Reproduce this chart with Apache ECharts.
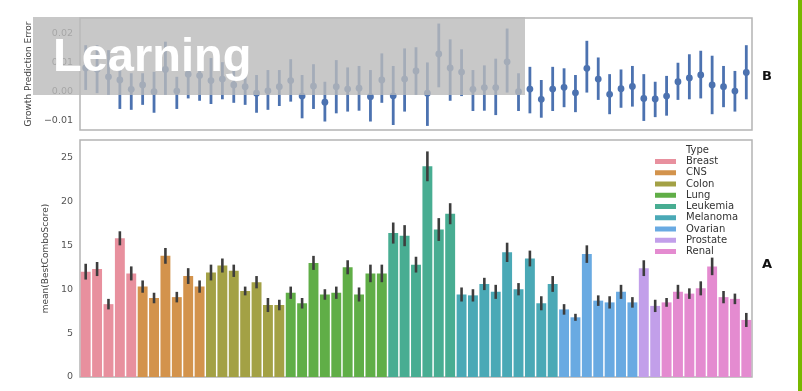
<!DOCTYPE html>
<html>
<head>
<meta charset="utf-8">
<script src="https://cdn.jsdelivr.net/npm/echarts@6/dist/echarts.min.js"></script>
<style>
  html, body { margin: 0; padding: 0; background: #fff; }
  #chart { width: 802px; height: 391px; }
</style>
</head>
<body>
<div id="chart"></div>
<script>
// Cell-line types and how many cell lines each type contributes (in plot order)
const types = ['Breast', 'CNS', 'Colon', 'Lung', 'Leukemia', 'Melanoma', 'Ovarian', 'Prostate', 'Renal'];
const typeCounts = [5, 6, 7, 9, 6, 9, 7, 2, 8];
const typeColors = ['#e8909e', '#d3934c', '#a3a145', '#60ae47', '#48ad92', '#4aa9b6', '#69aae2', '#c29fea', '#e48bd0'];

// Panel A: mean BestComboScore per cell line, with CI half-widths
const scoreMean = [
  12.0, 12.3, 8.3, 15.8, 11.8,
  10.3, 9.0, 13.8, 9.1, 11.5, 10.3,
  11.9, 12.7, 12.1, 9.8, 10.8, 8.2, 8.2,
  9.6, 8.4, 13.0, 9.4, 9.6, 12.5, 9.4, 11.8, 11.8,
  16.4, 16.1, 12.8, 24.0, 16.8, 18.6,
  9.4, 9.3, 10.6, 9.7, 14.2, 10.0, 13.5, 8.4, 10.6,
  7.7, 6.8, 14.0, 8.7, 8.5, 9.7, 8.5,
  12.4, 8.1,
  8.5, 9.7, 9.5, 10.1, 12.6, 9.1, 8.9, 6.5
];
const scoreCI = [
  0.9, 0.8, 0.6, 0.8, 0.8,
  0.7, 0.6, 0.9, 0.6, 0.9, 0.7,
  0.9, 0.8, 0.7, 0.5, 0.7, 0.8, 0.6,
  0.7, 0.6, 0.8, 0.6, 0.7, 0.8, 0.8, 1.0, 1.0,
  1.2, 1.2, 0.9, 1.7, 1.3, 1.2,
  0.8, 0.7, 0.7, 0.8, 1.1, 0.7, 0.9, 0.8, 0.9,
  0.6, 0.4, 1.0, 0.6, 0.7, 0.8, 0.6,
  0.9, 0.7,
  0.5, 0.8, 0.6, 0.8, 1.0, 0.7, 0.6, 0.8
];

// Panel B: growth prediction error per cell line (estimate, lower and upper CI)
const growthErr = [
  0.0081, 0.0077, 0.0051, 0.0040, 0.0008, 0.0023, 0.0000, 0.0076, 0.0002, 0.0060,
  0.0055, 0.0038, 0.0043, 0.0023, 0.0017, -0.0005, 0.0003, 0.0017, 0.0038, -0.0015,
  0.0019, -0.0036, 0.0017, 0.0009, 0.0012, -0.0017, 0.0040, -0.0014, 0.0043, 0.0071,
  -0.0005, 0.0129, 0.0081, 0.0067, 0.0008, 0.0014, 0.0014, 0.0102, 0.0000, 0.0009,
  -0.0026, 0.0009, 0.0015, -0.0004, 0.0080, 0.0043, -0.0009, 0.0010, 0.0018, -0.0023,
  -0.0025, -0.0015, 0.0034, 0.0047, 0.0057, 0.0023, 0.0017, 0.0002, 0.0066
];
const growthLow = [
  0.0006, -0.0005, -0.0011, -0.0059, -0.0062, -0.0045, -0.0072, -0.0011, -0.0059, -0.0023,
  -0.0031, -0.0042, -0.0026, -0.0038, -0.0045, -0.0072, -0.0062, -0.0049, -0.0034, -0.0091,
  -0.0059, -0.0102, -0.0074, -0.0068, -0.0065, -0.0102, -0.0038, -0.0114, -0.0068, -0.0011,
  -0.0117, 0.0015, -0.0031, -0.0015, -0.0066, -0.0065, -0.0080, -0.0003, -0.0066, -0.0074,
  -0.0089, -0.0066, -0.0053, -0.0070, -0.0003, -0.0028, -0.0077, -0.0055, -0.0051, -0.0100,
  -0.0087, -0.0082, -0.0028, -0.0026, -0.0023, -0.0077, -0.0053, -0.0068, -0.0026
];
const growthHigh = [
  0.0159, 0.0159, 0.0142, 0.0085, 0.0063, 0.0063, 0.0068, 0.0171, 0.0051, 0.0125,
  0.0125, 0.0115, 0.0101, 0.0081, 0.0074, 0.0057, 0.0074, 0.0074, 0.0111, 0.0057,
  0.0094, 0.0034, 0.0108, 0.0083, 0.0088, 0.0074, 0.0131, 0.0088, 0.0148, 0.0152,
  0.0100, 0.0233, 0.0179, 0.0145, 0.0074, 0.0090, 0.0113, 0.0216, 0.0063, 0.0085,
  0.0040, 0.0085, 0.0080, 0.0057, 0.0174, 0.0117, 0.0060, 0.0076, 0.0088, 0.0060,
  0.0034, 0.0054, 0.0099, 0.0128, 0.0140, 0.0123, 0.0088, 0.0071, 0.0159
];

// Tick labels
const growthTicks = [-0.01, 0.00, 0.01, 0.02];
const scoreTicks = [0, 5, 10, 15, 20, 25];

const FONT = 'DejaVu Sans';
const cats = scoreMean.map((_, i) => String(i));

// type index for each cell line
const cellType = [];
typeCounts.forEach((n, t) => { for (let k = 0; k < n; k++) cellType.push(t); });

const barSeries = types.map((name, t) => ({
  name: name,
  type: 'bar',
  xAxisIndex: 1,
  yAxisIndex: 1,
  barGap: '-100%',
  barCategoryGap: '13%',
  itemStyle: { color: typeColors[t] },
  data: scoreMean.map((v, i) => (cellType[i] === t ? v : '-')),
  animation: false
}));

const scoreBars = {
  type: 'custom',
  xAxisIndex: 1,
  yAxisIndex: 1,
  encode: { x: 0, y: [1, 2] },
  data: scoreMean.map((v, i) => [i, v - scoreCI[i], v + scoreCI[i]]),
  renderItem: (params, api) => {
    const a = api.coord([api.value(0), api.value(1)]);
    const b = api.coord([api.value(0), api.value(2)]);
    return { type: 'line', shape: { x1: a[0], y1: a[1], x2: b[0], y2: b[1] },
             style: { stroke: '#3d3d3d', lineWidth: 2.6 } };
  },
  z: 5,
  animation: false
};

const growthSeries = {
  type: 'custom',
  xAxisIndex: 0,
  yAxisIndex: 0,
  encode: { x: 0, y: [1, 2, 3] },
  data: growthErr.map((v, i) => [i, growthLow[i], growthHigh[i], v]),
  renderItem: (params, api) => {
    const a = api.coord([api.value(0), api.value(1)]);
    const b = api.coord([api.value(0), api.value(2)]);
    const c = api.coord([api.value(0), api.value(3)]);
    return { type: 'group', children: [
      { type: 'line', shape: { x1: a[0], y1: a[1], x2: b[0], y2: b[1] },
        style: { stroke: '#4c72b0', lineWidth: 2.8 } },
      { type: 'circle', shape: { cx: c[0], cy: c[1], r: 3.4 },
        style: { fill: '#4c72b0' } }
    ] };
  },
  animation: false
};

const chart = echarts.init(document.getElementById('chart'), null, { renderer: 'canvas' });
chart.setOption({
  backgroundColor: '#fff',
  animation: false,
  title: {
    text: 'Type', left: 686, top: 145, padding: 0,
    textStyle: { fontFamily: FONT, fontSize: 10, fontWeight: 'normal', color: '#333' }
  },
  legend: {
    orient: 'vertical', left: 655, top: 156, padding: 0,
    icon: 'rect', itemWidth: 21, itemHeight: 5, itemGap: 0.25,
    selectedMode: false,
    data: types,
    textStyle: { fontFamily: FONT, fontSize: 10, color: '#333', lineHeight: 11, padding: [0, 0, 0, 5] }
  },
  grid: [
    { left: 80, top: 18, width: 672, height: 112, show: true, borderColor: '#b4b4b4', borderWidth: 1.5, backgroundColor: 'transparent' },
    { left: 80, top: 140, width: 672, height: 237, show: true, borderColor: '#b4b4b4', borderWidth: 1.5, backgroundColor: 'transparent' }
  ],
  xAxis: [
    { type: 'category', gridIndex: 0, data: cats, axisLine: { show: false }, axisTick: { show: false }, axisLabel: { show: false } },
    { type: 'category', gridIndex: 1, data: cats, axisLine: { show: false }, axisTick: { show: false }, axisLabel: { show: false } }
  ],
  yAxis: [
    {
      type: 'value', gridIndex: 0, min: -0.0131, max: 0.0252,
      splitLine: { show: false }, axisLine: { show: false }, axisTick: { show: false },
      axisLabel: {
        customValues: growthTicks, margin: 7,
        fontFamily: FONT, fontSize: 9.5, color: '#555',
        formatter: v => (v < 0 ? '\u2212' + Math.abs(v).toFixed(2) : v.toFixed(2))
      },
      name: 'Growth Prediction Error', nameLocation: 'middle', nameRotate: 90, nameGap: 43,
      nameTextStyle: { fontFamily: FONT, fontSize: 9, color: '#444' }
    },
    {
      type: 'value', gridIndex: 1, min: 0, max: 27,
      splitLine: { show: false }, axisLine: { show: false }, axisTick: { show: false },
      axisLabel: { customValues: scoreTicks, margin: 7, fontFamily: FONT, fontSize: 9.5, color: '#555' },
      name: 'mean(BestComboScore)', nameLocation: 'middle', nameRotate: 90, nameGap: 21,
      nameTextStyle: { fontFamily: FONT, fontSize: 9, color: '#444' }
    }
  ],
  graphic: [
    { type: 'text', left: 762, top: 70, style: { text: 'B', fontFamily: FONT, fontSize: 13, fontWeight: 'bold', fill: '#111' } },
    { type: 'text', left: 762, top: 258, style: { text: 'A', fontFamily: FONT, fontSize: 13, fontWeight: 'bold', fill: '#111' } },
    { type: 'rect', shape: { x: 33, y: 17, width: 492, height: 78 }, style: { fill: 'rgba(186,186,186,0.8)' }, z: 100 },
    { type: 'text', x: 53, y: 58, z: 101,
      style: { text: 'Learning', fontFamily: 'Liberation Sans', fontSize: 47, fontWeight: 'bold', fill: '#fff', align: 'left', verticalAlign: 'middle' } },
    { type: 'rect', shape: { x: 798, y: 0, width: 4, height: 391 }, style: { fill: '#78b800' }, z: 100 }
  ],
  series: [growthSeries, ...barSeries, scoreBars]
});
</script>
</body>
</html>
